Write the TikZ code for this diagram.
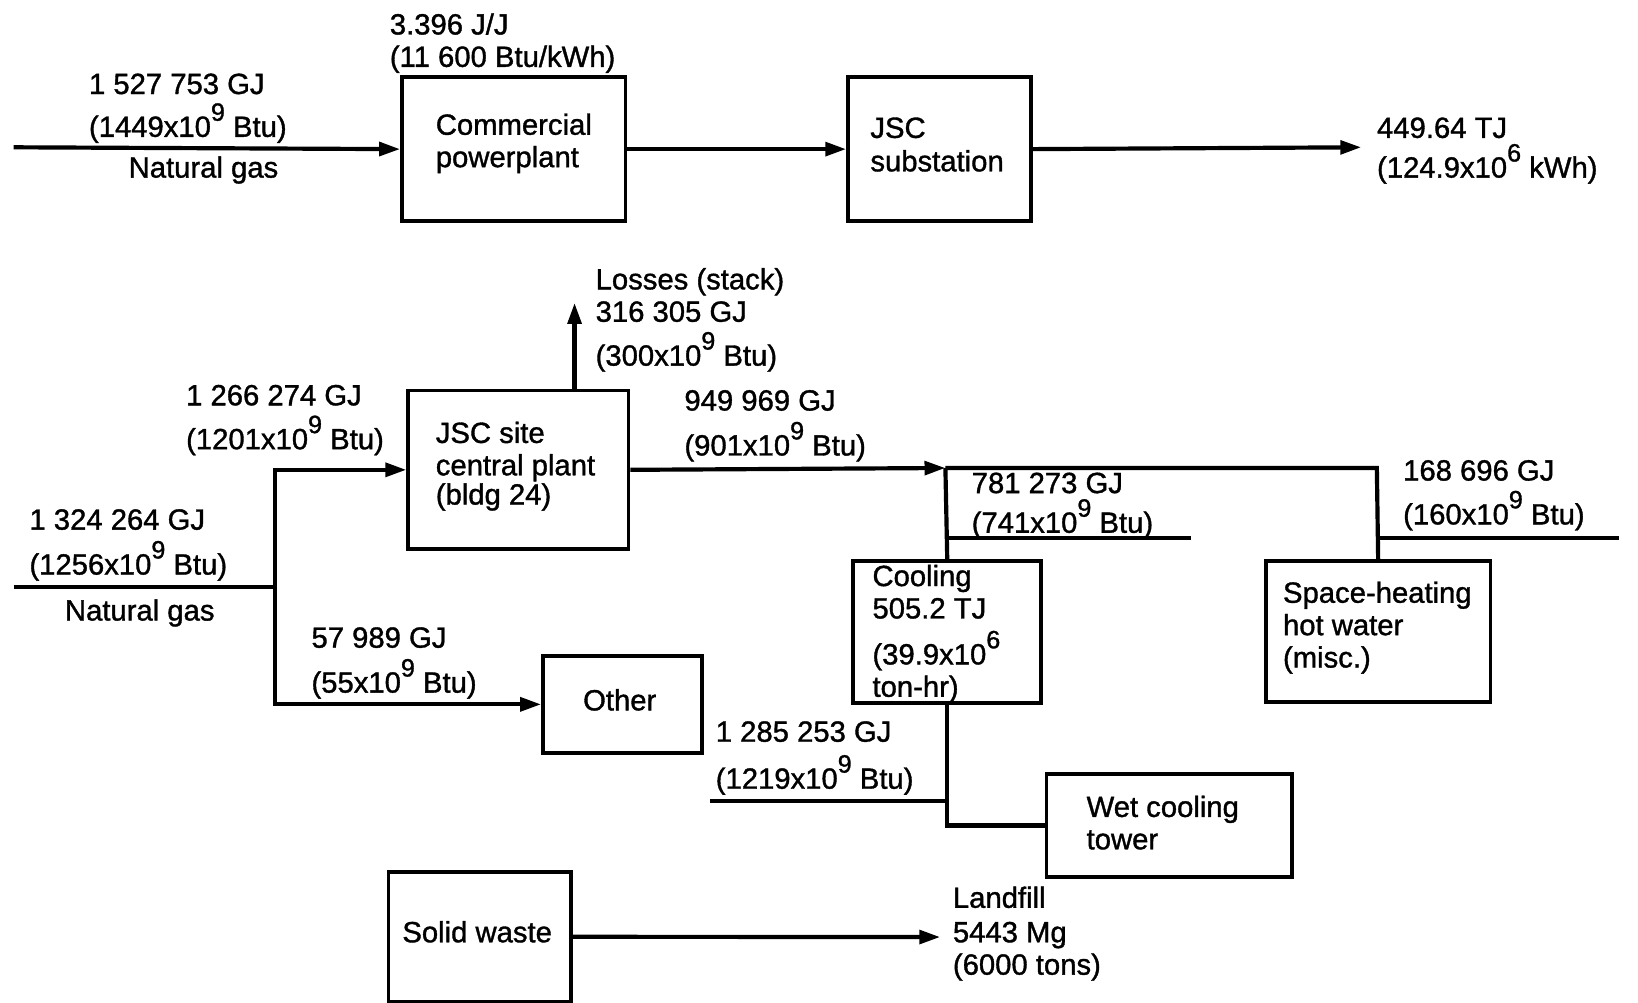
\documentclass[tikz,border=0pt]{standalone}
\usepackage{fontspec}
\setmainfont{Liberation Sans}[RawFeature={embolden=1.2}]
\usetikzlibrary{arrows.meta}
\newcommand\ex[1]{\raisebox{0.55em}{\fontsize{24}{24}\selectfont #1}}
\begin{document}
\lineskiplimit=-100pt
\lineskip=0pt
\spaceskip=10pt plus 1pt
\begin{tikzpicture}[x=1pt,y=-1pt,
  box/.style={draw, line width=3.5pt, inner sep=0pt, anchor=north west},
  lbl/.style={anchor=base west, inner sep=0pt, align=left,
    font={\fontsize{28}{31}\selectfont}},
  flow/.style={line width=4pt},
  arr/.style={flow, -{Triangle[length=20pt,width=13pt]}}]
\useasboundingbox (0,0) rectangle (1568,960);

% ---------- top row ----------
\node[box, minimum width=214pt, minimum height=138pt] (cp) at (383,72) {};
\node[box, minimum width=175pt, minimum height=138pt] (sub) at (810,72) {};
\coordinate (ngin) at (13,141);
\coordinate (elout) at (1303,141);
\draw[arr] (ngin) -- (cp.west);
\draw[arr] (cp.east) -- (sub.west);
\draw[arr] (sub.east) -- (elout);

\node[lbl] (t1) at (373,64) {3.396 J/J\\(11 600 Btu/kWh)};
\node[lbl] (t2) at (85,131) {1 527 753 GJ\\[10pt](1449x10\ex{9} Btu)};
\node[lbl] (t3) at (123,170) {Natural gas};
\node[lbl] (t4) at (417,160) {Commercial\\powerplant};
\node[lbl] (t5) at (833,164) {JSC\\[1pt]substation};
\node[lbl] (t6) at (1318,170) {449.64 TJ\\[7pt](124.9x10\ex{6} kWh)};

% ---------- central plant ----------
\node[box, minimum width=211pt, minimum height=152pt] (csp) at (389,372) {};
\node[box, minimum width=152pt, minimum height=93pt] (oth) at (518,626) {};
\node[box, minimum width=180pt, minimum height=136pt] (cool) at (815,535) {};
\node[box, minimum width=215pt, minimum height=135pt] (shw) at (1210,535) {};
\node[box, minimum width=235pt, minimum height=99pt] (wct) at (1000,739) {};
\node[box, minimum width=175pt, minimum height=124pt] (sw) at (370,833) {};

\coordinate (ngin2) at (13,562);
\coordinate (j1) at (263,562);
\coordinate (loss) at (550,290);
\coordinate (j2) at (905,448);
\coordinate (j3) at (1318,448);
\coordinate (j4) at (1318,515);
\coordinate (heatout) at (1550,515);
\coordinate (j5) at (905,515);
\coordinate (coolout) at (1140,515);
\coordinate (j7) at (905,767);
\coordinate (rej) at (680,767);
\coordinate (lf) at (900,897);

\draw[flow] (ngin2) -- (j1);
\draw[arr] (j1) |- (csp.west);
\draw[arr] (j1) |- (oth.west);
\draw[arr] (loss |- csp.north) -- (loss);
\draw[arr] (csp.east) -- (j2);
\draw[flow] (j2) -- (j3) -- (shw.north);
\draw[flow] (j4) -- (heatout);
\draw[flow] (j2) -- (cool.north);
\draw[flow] (j5) -- (coolout);
\draw[flow] (cool.south) |- (wct.west);
\draw[flow] (j7) -- (rej);
\draw[arr] (sw.east) -- (lf);

\node[lbl] (l1) at (570,350) {Losses (stack)\\316 305 GJ\\[11pt](300x10\ex{9} Btu)};
\node[lbl] (l2) at (178,430) {1 266 274 GJ\\[11pt](1201x10\ex{9} Btu)};
\node[lbl] (l3) at (417,483) {JSC site\\central plant\\[-3pt](bldg 24)};
\node[lbl] (l4) at (655,436) {949 969 GJ\\[12pt](901x10\ex{9} Btu)};
\node[lbl] (l5) at (28,550) {1 324 264 GJ\\[12pt](1256x10\ex{9} Btu)};
\node[lbl] (l6) at (62,594) {Natural gas};
\node[lbl] (l7) at (298,663) {57 989 GJ\\[12pt](55x10\ex{9} Btu)};
\node[lbl] (l8) at (558,680) {Other};
\node[lbl] (l9) at (930,510) {781 273 GJ\\[7pt](741x10\ex{9} Btu)};
\node[lbl] (l10) at (1343,502) {168 696 GJ\\[11pt](160x10\ex{9} Btu)};
\node[lbl] (l11) at (835,667) {Cooling\\505.2 TJ\\[13pt](39.9x10\ex{6}\\ton-hr)};
\node[lbl] (l12) at (1228,639) {Space-heating\\hot water\\(misc.)};
\node[lbl] (l13) at (685,755) {1 285 253 GJ\\[14pt](1219x10\ex{9} Btu)};
\node[lbl] (l14) at (1040,813) {Wet cooling\\tower};
\node[lbl] (l15) at (385,902) {Solid waste};
\node[lbl] (l16) at (912,933) {Landfill\\[2pt]5443 Mg\\(6000 tons)};
\end{tikzpicture}
\end{document}
